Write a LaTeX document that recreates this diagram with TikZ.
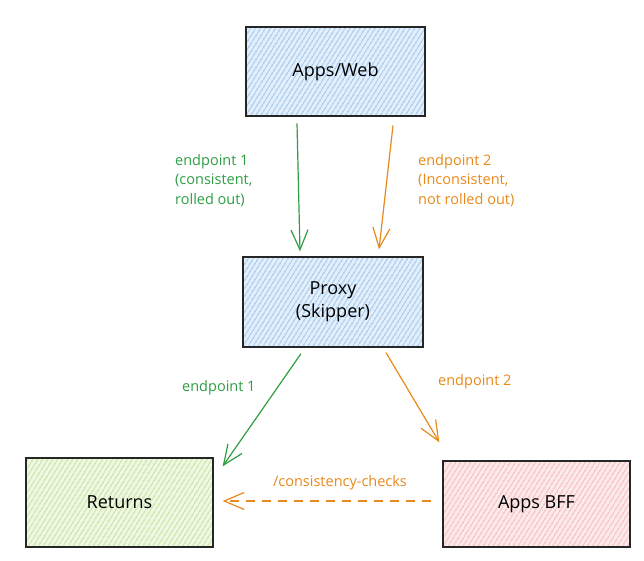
\documentclass[tikz,border=0pt]{standalone}
\usepackage{fontspec}
\setmainfont{Open Sans}
\usetikzlibrary{arrows.meta,patterns.meta,calc}
\definecolor{cgreen}{HTML}{2F9E44}
\definecolor{corange}{HTML}{E8891B}
\definecolor{hblue}{HTML}{5C9FE0}
\definecolor{bblue}{HTML}{E3EFFB}
\definecolor{hgreen}{HTML}{9CCC5A}
\definecolor{bgreen}{HTML}{EEF8E2}
\definecolor{hred}{HTML}{F08C8C}
\definecolor{bred}{HTML}{FCEAEA}
\tikzset{
  box/.style={draw=black!85, line width=1.3pt, minimum width=#1, inner sep=0pt,
    font=\fontsize{18}{23}\selectfont, align=center},
  bluebox/.style={preaction={fill=bblue}, pattern={Lines[angle=58,distance=4pt,line width=0.8pt]}, pattern color=hblue},
  greenbox/.style={preaction={fill=bgreen}, pattern={Lines[angle=58,distance=4pt,line width=0.8pt]}, pattern color=hgreen},
  redbox/.style={preaction={fill=bred}, pattern={Lines[angle=58,distance=4pt,line width=0.8pt]}, pattern color=hred},
  conn/.style={line width=1.2pt, -{Straight Barb[length=20pt,width=17pt,line width=1.2pt]}},
  lbl/.style={font=\fontsize{14.5}{19.5}\selectfont, align=left, inner sep=0pt}
}
\begin{document}
\begin{tikzpicture}[x=1pt,y=-1pt]
\useasboundingbox (0,0) rectangle (644,561);
\fill[white] (0,0) rectangle (644,561);

\node[box=179pt, minimum height=89pt, bluebox] (web) at (335.5,71.5) {Apps/Web};
\node[box=180pt, minimum height=90pt, bluebox] (proxy) at (333,302) {Proxy\\(Skipper)};
\node[box=187pt, minimum height=89pt, greenbox] (ret) at (119.5,502.5) {Returns};
\node[box=187pt, minimum height=86pt, redbox] (bff) at (536.5,504) {Apps BFF};

\draw[conn, cgreen] ([xshift=-38.5pt,yshift=-7pt]web.south) -- ([xshift=-33pt,yshift=5pt]proxy.north);
\draw[conn, corange] ([xshift=57.5pt,yshift=-9pt]web.south) -- ([xshift=46pt,yshift=7pt]proxy.north);
\draw[conn, cgreen] ([xshift=-32pt,yshift=-6pt]proxy.south) -- ([xshift=9pt,yshift=-9pt]ret.north east);
\draw[conn, corange] ([xshift=53pt,yshift=-5pt]proxy.south) -- ([xshift=-3pt,yshift=18pt]bff.north west);
\draw[conn, corange, dash pattern=on 9pt off 7pt] ([xshift=-11pt,yshift=3pt]bff.west) -- ([xshift=9pt,yshift=1.5pt]ret.east);

\node[lbl, text=cgreen, anchor=north west] (l1) at (175,154) {endpoint 1\\(consistent,\\rolled out)};
\node[lbl, text=corange, anchor=north west] (l2) at (418,154) {endpoint 2\\(Inconsistent,\\not rolled out)};
\node[lbl, text=cgreen, anchor=west] (l3) at (182,388) {endpoint 1};
\node[lbl, text=corange, anchor=west] (l4) at (438,382) {endpoint 2};
\node[lbl, text=corange] (l5) at (340,483) {/consistency-checks};
\end{tikzpicture}
\end{document}
